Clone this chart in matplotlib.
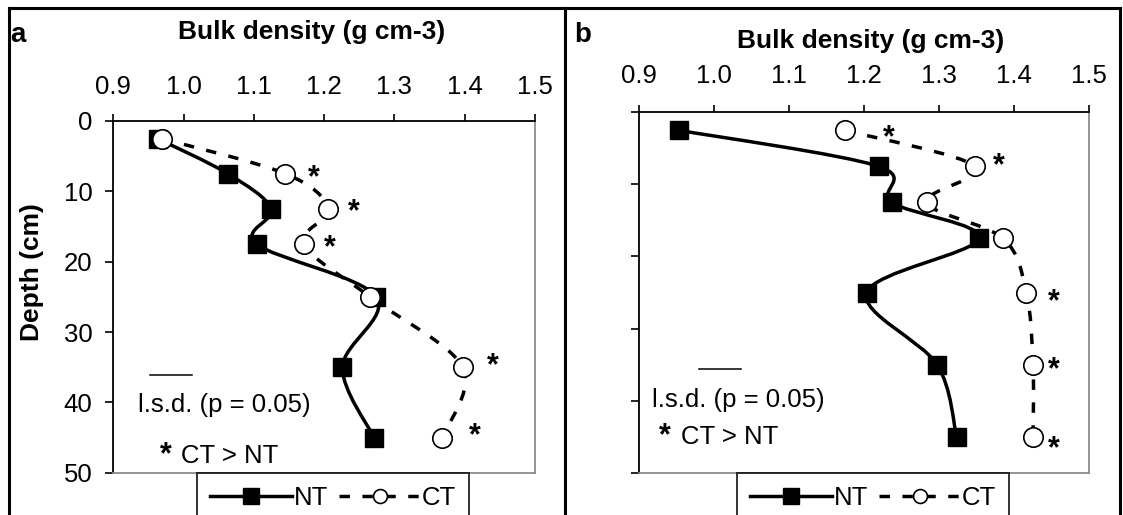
import numpy as np
import matplotlib
matplotlib.use("Agg")
import matplotlib.pyplot as plt
from matplotlib.path import Path
from matplotlib.patches import PathPatch
from matplotlib.lines import Line2D

plt.rcParams['font.family'] = ['Liberation Sans', 'DejaVu Sans']

# Sampling depths (cm), mid-points of the soil layers
depth = [2.5, 7.5, 12.5, 17.5, 25, 35, 45]

# Bulk density (g cm-3), site a
nt_a = [0.963, 1.063, 1.125, 1.104, 1.274, 1.226, 1.271]
ct_a = [0.969, 1.145, 1.206, 1.171, 1.265, 1.397, 1.368]
# Bulk density (g cm-3), site b
nt_b = [0.953, 1.219, 1.237, 1.353, 1.203, 1.297, 1.323]
ct_b = [1.174, 1.348, 1.283, 1.385, 1.416, 1.425, 1.425]

# Layers where CT is significantly greater than NT (index into depth)
sig_a = [1, 2, 3, 5, 6]
sig_b = [0, 1, 4, 5, 6]

# Least significant differences (p = 0.05)
lsd_a = 0.060
lsd_b = 0.056

x_ticks = [0.9, 1.0, 1.1, 1.2, 1.3, 1.4, 1.5]
y_ticks = [0, 10, 20, 30, 40, 50]
series_labels = ['NT', 'CT']
panel_labels = ['a', 'b']
x_title = 'Bulk density (g cm-3)'
y_title = 'Depth (cm)'

FS = 18.5      # ordinary text
FS_B = 19      # bold titles

W, H = 1123, 515
fig = plt.figure(figsize=(W / 100, H / 100), dpi=100)


def px_axes(left, top, right, bottom):
    return fig.add_axes([left / W, 1 - bottom / H, (right - left) / W, (bottom - top) / H])


def smooth_path(x, y):
    pts = np.column_stack([x, y]).astype(float)
    n = len(pts)
    verts = [pts[0]]
    codes = [Path.MOVETO]
    for i in range(n - 1):
        p0 = pts[max(i - 1, 0)]
        p1 = pts[i]
        p2 = pts[i + 1]
        p3 = pts[min(i + 2, n - 1)]
        verts += [p1 + (p2 - p0) / 6, p2 - (p3 - p1) / 6, p2]
        codes += [Path.CURVE4] * 3
    return Path(verts, codes)


DASH = (0, (3.0, 3.6))


def draw_panel(ax, nt, ct, sig, lsd, lsd_pos, note_pos, star_pos, ct_pos, show_ylabels, xpad):
    ax.set_xlim(0.9, 1.5)
    ax.set_ylim(50, 0)
    ax.xaxis.tick_top()
    ax.set_xticks(x_ticks)
    ax.set_xticklabels([f'{v:.1f}' for v in x_ticks])
    ax.set_yticks(y_ticks)
    if show_ylabels:
        ax.set_yticklabels([str(v) for v in y_ticks])
    else:
        ax.set_yticklabels([])
    ax.tick_params(axis='x', direction='out', length=5, width=1.2, pad=xpad, labelsize=FS)
    ax.tick_params(axis='y', direction='out', length=6, width=1.2, pad=9, labelsize=FS)
    for side in ('left', 'top'):
        ax.spines[side].set_color('black')
        ax.spines[side].set_linewidth(1.3)
    for side in ('right', 'bottom'):
        ax.spines[side].set_color('#8c8c8c')
        ax.spines[side].set_linewidth(1.3)

    ax.add_patch(PathPatch(smooth_path(nt, depth), fill=False, lw=2.5,
                           edgecolor='black', zorder=2, capstyle='butt'))
    ax.add_patch(PathPatch(smooth_path(ct, depth), fill=False, lw=2.5,
                           edgecolor='black', linestyle=DASH, zorder=2, capstyle='butt'))
    ax.plot(nt, depth, ls='none', marker='s', ms=13.5, mfc='black', mec='black', zorder=4)
    ax.plot(ct, depth, ls='none', marker='o', ms=14, mfc='white', mec='black',
            mew=1.2, zorder=5)

    for i, (dx, dy) in zip(sig, ct_pos):
        ax.annotate('*', xy=(ct[i] + dx, depth[i] + dy), xytext=(0, -13),
                    textcoords='offset points', ha='center', va='baseline',
                    fontsize=22, fontweight='bold', zorder=6)

    lx, ly = lsd_pos
    ax.plot([lx, lx + lsd], [ly, ly], color='black', lw=1.1)
    nx, ny = note_pos
    ax.text(nx, ny, 'l.s.d. (p = 0.05)', ha='left', va='center', fontsize=FS)
    sx, sy = star_pos
    ax.annotate('*', xy=(sx, sy), xytext=(0, -13), textcoords='offset points',
                ha='center', va='baseline', fontsize=22, fontweight='bold')
    ax.text(sx + 0.022, sy + 1.5, 'CT > NT', ha='left', va='center', fontsize=FS)


ax_a = px_axes(113.3, 121, 535, 472.7)
draw_panel(ax_a, nt_a, ct_a, sig_a, lsd_a,
           lsd_pos=(0.952, 36.1), note_pos=(0.935, 40.4), star_pos=(0.975, 46.1),
           ct_pos=[(0.04, -0.8), (0.036, -1.0), (0.037, -0.9), (0.043, -1.6), (0.046, -1.6)],
           show_ylabels=True, xpad=11)

ax_b = px_axes(639.3, 112.3, 1089.3, 472.7)
draw_panel(ax_b, nt_b, ct_b, sig_b, lsd_b,
           lsd_pos=(0.98, 35.6), note_pos=(0.917, 39.9), star_pos=(0.934, 43.6),
           ct_pos=[(0.059, -0.3), (0.032, -1.4), (0.037, 0.0), (0.028, -0.6), (0.028, 0.4)],
           show_ylabels=False, xpad=12.5)

# Axis titles and panel letters
fig.text(312 / W, 1 - 32 / H, x_title, ha='center', va='center', fontsize=FS_B, fontweight='bold')
fig.text(871 / W, 1 - 41 / H, x_title, ha='center', va='center', fontsize=FS_B, fontweight='bold')
fig.text(32 / W, 1 - 272 / H, y_title, ha='center', va='center', rotation=90,
         fontsize=FS_B, fontweight='bold')
fig.text(10 / W, 1 - 35 / H, panel_labels[0], ha='left', va='center', fontsize=20, fontweight='bold')
fig.text(574 / W, 1 - 35 / H, panel_labels[1], ha='left', va='center', fontsize=20, fontweight='bold')

# Legends under each plot
handles = [
    Line2D([], [], color='black', lw=2.5, marker='s', ms=11, mfc='black', mec='black'),
    Line2D([], [], color='black', lw=2.5, ls=DASH, marker='o', ms=10, mfc='white',
           mec='black', mew=1.2),
]
for left in (197.3, 737.3):
    leg = fig.legend(handles, series_labels, ncol=2, loc='upper left',
                     bbox_to_anchor=(left / W, 1 - 473.3 / H, 272 / W, 0),
                     mode='expand', borderaxespad=0, frameon=True, fancybox=False,
                     edgecolor='black', fontsize=FS, handlelength=3.2,
                     handletextpad=0.05, columnspacing=0.6, borderpad=0.5,
                     numpoints=1)
    leg.get_frame().set_linewidth(1.4)

# Chart-area frames
frame_kw = dict(color='black', lw=2.2, transform=fig.transFigure, clip_on=False)
fig.add_artist(Line2D([8.5 / W, 1120 / W], [1 - 7.5 / H, 1 - 7.5 / H], **frame_kw))
fig.add_artist(Line2D([8.5 / W, 8.5 / W], [0, 1 - 7.5 / H], **frame_kw))
fig.add_artist(Line2D([565 / W, 565 / W], [0, 1 - 7.5 / H], **frame_kw))
fig.add_artist(Line2D([1120 / W, 1120 / W], [0, 1 - 7.5 / H], **frame_kw))

fig.savefig('out.png', dpi=100)
